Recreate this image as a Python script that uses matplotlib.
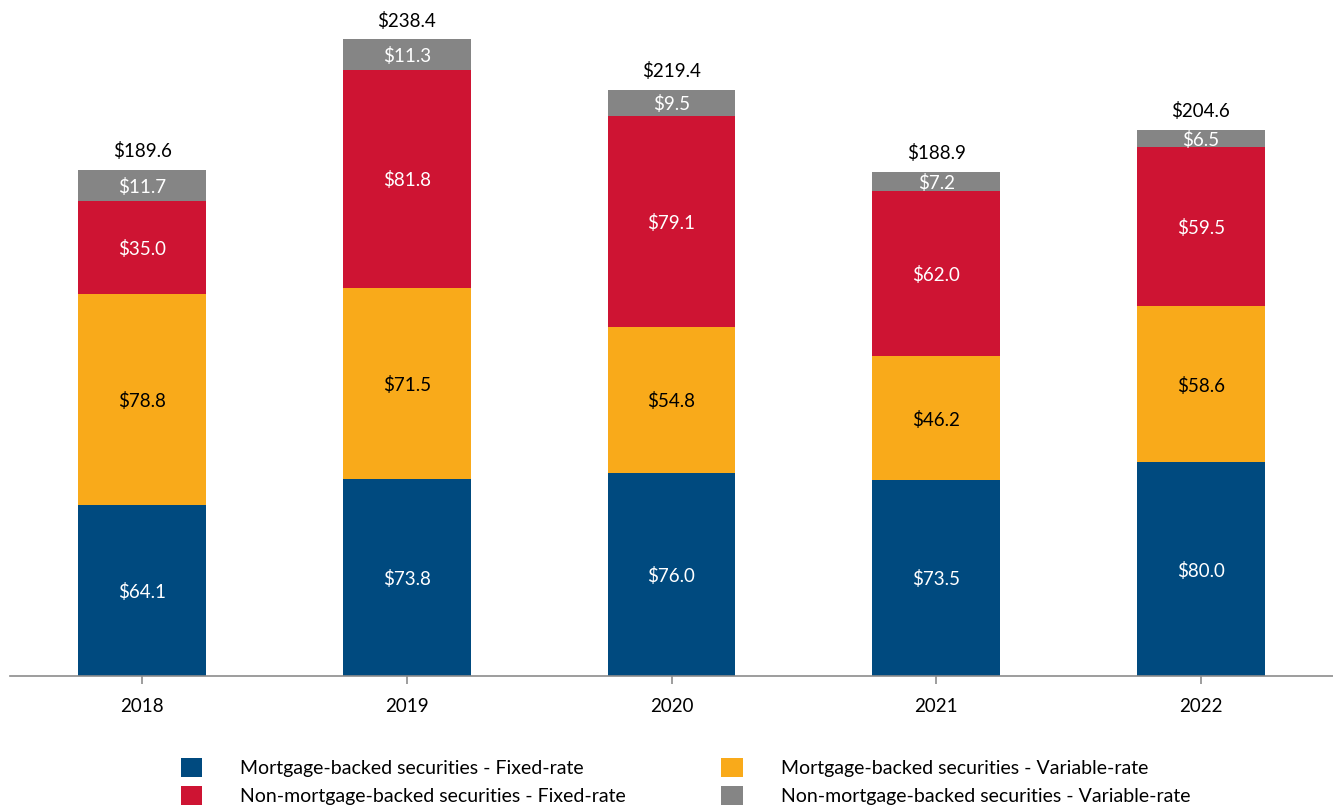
import matplotlib
matplotlib.use("Agg")
import matplotlib.pyplot as plt
import numpy as np

plt.rcParams['font.family'] = ['Lato', 'DejaVu Sans']

years = ["2018", "2019", "2020", "2021", "2022"]
mbs_fixed = [64.1, 73.8, 76.0, 73.5, 80.0]
mbs_variable = [78.8, 71.5, 54.8, 46.2, 58.6]
non_mbs_fixed = [35.0, 81.8, 79.1, 62.0, 59.5]
non_mbs_variable = [11.7, 11.3, 9.5, 7.2, 6.5]
totals = [189.6, 238.4, 219.4, 188.9, 204.6]

series = [
    ("Mortgage-backed securities - Fixed-rate", mbs_fixed, "#004A7F", "white"),
    ("Mortgage-backed securities - Variable-rate", mbs_variable, "#F9AA1A", "black"),
    ("Non-mortgage-backed securities - Fixed-rate", non_mbs_fixed, "#CE1433", "white"),
    ("Non-mortgage-backed securities - Variable-rate", non_mbs_variable, "#858585", "white"),
]

W, H = 1333, 808
fig = plt.figure(figsize=(W / 100, H / 100), dpi=100)
ax = fig.add_axes([10 / W, 1 - 676 / H, 1323 / W, 667.5 / H])

x = np.arange(len(years))
bottom = np.zeros(len(years))
handles = {}
for name, vals, color, tcolor in series:
    vals = np.array(vals)
    bars = ax.bar(x, vals, width=0.483, bottom=bottom, color=color, label=name, zorder=2)
    handles[name] = bars
    for xi, b, v in zip(x, bottom, vals):
        ax.text(xi, b + v / 2, f"${v:.1f}", ha="center", va="center_baseline",
                color=tcolor, fontsize=13.5)
    bottom = bottom + vals

for xi, b, t in zip(x, bottom, totals):
    ax.annotate(f"${t:.1f}", (xi, b), xytext=(0, 7), textcoords="offset points",
                ha="center", va="bottom", fontsize=13.5, color="black")

ax.set_xlim(-0.5, 4.5)
ax.set_ylim(0, 250)
ax.set_xticks(x)
ax.set_xticklabels(years, fontsize=13.5)
ax.set_yticks([])
for s in ["top", "right", "left"]:
    ax.spines[s].set_visible(False)
ax.spines["bottom"].set_color("#8C8C8C")
ax.spines["bottom"].set_linewidth(1.2)
ax.tick_params(axis="x", length=6, width=1.2, color="#8C8C8C", pad=10)

order = [series[0][0], series[2][0], series[1][0], series[3][0]]
leg = fig.legend([handles[n] for n in order], order, loc="upper left",
                 bbox_to_anchor=(163 / W, 1 - 740 / H), ncol=2, frameon=False,
                 fontsize=14, handlelength=1.13, handleheight=1.13,
                 handletextpad=1.95, columnspacing=4.9, labelspacing=0.5)

fig.savefig("out.png", dpi=100)
